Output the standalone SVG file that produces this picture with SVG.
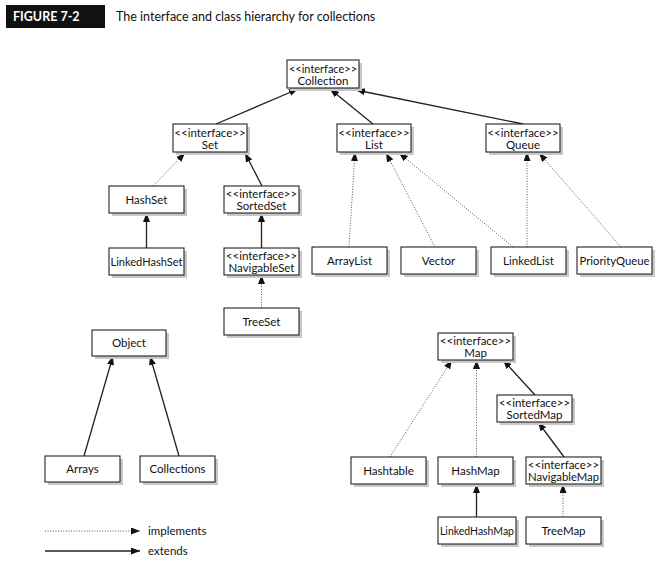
<svg xmlns="http://www.w3.org/2000/svg" width="671" height="572" viewBox="0 0 671 572">
<defs>
<style>
.box{fill:#fff;stroke:#222;stroke-width:1.1}
.sh{fill:#c8c8c8}
.t{font-family:Lato,"Open Sans",sans-serif;font-size:11.5px;fill:#111;text-anchor:middle}
.ext{stroke:#222;stroke-width:1.3;fill:none;marker-end:url(#ah)}
.imp{stroke:#555;stroke-width:1;stroke-dasharray:1 1.6;fill:none;marker-end:url(#ah)}
</style>
<marker id="ah" markerUnits="userSpaceOnUse" markerWidth="10" markerHeight="8" refX="9" refY="3.5" orient="auto">
<path d="M0,0 L9,3.5 L0,7 z" fill="#111"/>
</marker>
</defs>
<rect x="0" y="0" width="671" height="572" fill="#fff"/>
<g id="header">
<rect x="6" y="5" width="99" height="23" fill="#111"/>
<text x="13" y="21" font-family="Lato,'Open Sans',sans-serif" font-weight="bold" font-size="12.5" fill="#fff">FIGURE 7-2</text>
<text x="116" y="21" font-family="Lato,'Open Sans',sans-serif" font-size="12.5" fill="#111">The interface and class hierarchy for collections</text>
</g>
<g id="connectors">
<line class="ext" x1="216" y1="124" x2="298" y2="89"/>
<line class="ext" x1="373" y1="124" x2="330" y2="89"/>
<line class="ext" x1="523" y1="124" x2="356" y2="90"/>
<line class="imp" x1="153" y1="186" x2="185" y2="153"/>
<line class="ext" x1="262" y1="186" x2="245" y2="153"/>
<line class="ext" x1="146.5" y1="248" x2="146.5" y2="213"/>
<line class="ext" x1="261.5" y1="248" x2="261.5" y2="213"/>
<line class="imp" x1="261.5" y1="308" x2="261.5" y2="275"/>
<line class="imp" x1="349" y1="247" x2="355" y2="152"/>
<line class="imp" x1="435" y1="247" x2="386" y2="153"/>
<line class="imp" x1="513" y1="247" x2="399" y2="153"/>
<line class="imp" x1="527" y1="247" x2="527" y2="152"/>
<line class="imp" x1="621" y1="247" x2="539" y2="153"/>
<line class="ext" x1="84" y1="456" x2="113" y2="356"/>
<line class="ext" x1="179" y1="456" x2="150" y2="356"/>
<line class="imp" x1="390" y1="457" x2="452" y2="360"/>
<line class="imp" x1="476.5" y1="457" x2="476.5" y2="360"/>
<line class="ext" x1="535" y1="395" x2="503" y2="360"/>
<line class="ext" x1="564" y1="457" x2="538" y2="422"/>
<line class="ext" x1="476.5" y1="517" x2="476.5" y2="484"/>
<line class="imp" x1="563" y1="517" x2="563" y2="484"/>
</g>
<g id="legend">
<line class="imp" x1="45" y1="531" x2="140" y2="531"/>
<text x="148" y="535" font-family="Lato,'Open Sans',sans-serif" font-size="11.5" fill="#111">implements</text>
<line class="ext" x1="45" y1="551" x2="140" y2="551"/>
<text x="148" y="555" font-family="Lato,'Open Sans',sans-serif" font-size="11.5" fill="#111">extends</text>
</g>
<g id="Collection"><rect class="sh" x="290" y="63" width="72" height="28"/><rect class="box" x="287" y="60" width="72" height="28"/><text class="t" x="323" y="72.5" textLength="68" lengthAdjust="spacingAndGlyphs">&lt;&lt;interface&gt;&gt;</text><text class="t" x="323" y="84.5">Collection</text></g>
<g id="Set"><rect class="sh" x="176" y="127" width="74" height="28"/><rect class="box" x="173" y="124" width="74" height="28"/><text class="t" x="210" y="136.5">&lt;&lt;interface&gt;&gt;</text><text class="t" x="210" y="148.5">Set</text></g>
<g id="List"><rect class="sh" x="340" y="127" width="74" height="28"/><rect class="box" x="337" y="124" width="74" height="28"/><text class="t" x="374" y="136.5">&lt;&lt;interface&gt;&gt;</text><text class="t" x="374" y="148.5">List</text></g>
<g id="Queue"><rect class="sh" x="489" y="127" width="74" height="28"/><rect class="box" x="486" y="124" width="74" height="28"/><text class="t" x="523" y="136.5">&lt;&lt;interface&gt;&gt;</text><text class="t" x="523" y="148.5">Queue</text></g>
<g id="HashSet"><rect class="sh" x="112" y="189" width="75" height="27"/><rect class="box" x="109" y="186" width="75" height="27"/><text class="t" x="146.5" y="203.5">HashSet</text></g>
<g id="SortedSet"><rect class="sh" x="227" y="189" width="75" height="27"/><rect class="box" x="224" y="186" width="75" height="27"/><text class="t" x="261.5" y="197.5">&lt;&lt;interface&gt;&gt;</text><text class="t" x="261.5" y="209.5">SortedSet</text></g>
<g id="LinkedHashSet"><rect class="sh" x="112" y="251" width="75" height="27"/><rect class="box" x="109" y="248" width="75" height="27"/><text class="t" x="146.5" y="265.5" textLength="72" lengthAdjust="spacingAndGlyphs">LinkedHashSet</text></g>
<g id="NavigableSet"><rect class="sh" x="227" y="251" width="75" height="27"/><rect class="box" x="224" y="248" width="75" height="27"/><text class="t" x="261.5" y="259.5">&lt;&lt;interface&gt;&gt;</text><text class="t" x="261.5" y="271.5">NavigableSet</text></g>
<g id="TreeSet"><rect class="sh" x="227" y="311" width="75" height="27"/><rect class="box" x="224" y="308" width="75" height="27"/><text class="t" x="261.5" y="325.5">TreeSet</text></g>
<g id="ArrayList"><rect class="sh" x="315" y="250" width="75" height="27"/><rect class="box" x="312" y="247" width="75" height="27"/><text class="t" x="349.5" y="264.5">ArrayList</text></g>
<g id="Vector"><rect class="sh" x="404" y="250" width="75" height="27"/><rect class="box" x="401" y="247" width="75" height="27"/><text class="t" x="438.5" y="264.5">Vector</text></g>
<g id="LinkedList"><rect class="sh" x="494" y="250" width="75" height="27"/><rect class="box" x="491" y="247" width="75" height="27"/><text class="t" x="528.5" y="264.5">LinkedList</text></g>
<g id="PriorityQueue"><rect class="sh" x="580" y="250" width="75" height="27"/><rect class="box" x="577" y="247" width="75" height="27"/><text class="t" x="614.5" y="264.5" textLength="70" lengthAdjust="spacingAndGlyphs">PriorityQueue</text></g>
<g id="Object"><rect class="sh" x="95" y="333" width="74" height="26"/><rect class="box" x="92" y="330" width="74" height="26"/><text class="t" x="129" y="347">Object</text></g>
<g id="Arrays"><rect class="sh" x="48" y="459" width="75" height="26"/><rect class="box" x="45" y="456" width="75" height="26"/><text class="t" x="82.5" y="473">Arrays</text></g>
<g id="Collections"><rect class="sh" x="143" y="459" width="75" height="26"/><rect class="box" x="140" y="456" width="75" height="26"/><text class="t" x="177.5" y="473">Collections</text></g>
<g id="Map"><rect class="sh" x="441" y="336" width="75" height="27"/><rect class="box" x="438" y="333" width="75" height="27"/><text class="t" x="475.5" y="344.5">&lt;&lt;interface&gt;&gt;</text><text class="t" x="475.5" y="356.5">Map</text></g>
<g id="SortedMap"><rect class="sh" x="500" y="398" width="75" height="27"/><rect class="box" x="497" y="395" width="75" height="27"/><text class="t" x="534.5" y="406.5">&lt;&lt;interface&gt;&gt;</text><text class="t" x="534.5" y="418.5">SortedMap</text></g>
<g id="Hashtable"><rect class="sh" x="354" y="460" width="75" height="27"/><rect class="box" x="351" y="457" width="75" height="27"/><text class="t" x="388.5" y="474.5">Hashtable</text></g>
<g id="HashMap"><rect class="sh" x="441" y="460" width="75" height="27"/><rect class="box" x="438" y="457" width="75" height="27"/><text class="t" x="475.5" y="474.5">HashMap</text></g>
<g id="NavigableMap"><rect class="sh" x="529" y="460" width="75" height="27"/><rect class="box" x="526" y="457" width="75" height="27"/><text class="t" x="563.5" y="468.5">&lt;&lt;interface&gt;&gt;</text><text class="t" x="563.5" y="480.5" textLength="71" lengthAdjust="spacingAndGlyphs">NavigableMap</text></g>
<g id="LinkedHashMap"><rect class="sh" x="441" y="520" width="78" height="27"/><rect class="box" x="438" y="517" width="78" height="27"/><text class="t" x="477" y="534.5" textLength="74" lengthAdjust="spacingAndGlyphs">LinkedHashMap</text></g>
<g id="TreeMap"><rect class="sh" x="529" y="520" width="75" height="27"/><rect class="box" x="526" y="517" width="75" height="27"/><text class="t" x="563.5" y="534.5">TreeMap</text></g>
</svg>
